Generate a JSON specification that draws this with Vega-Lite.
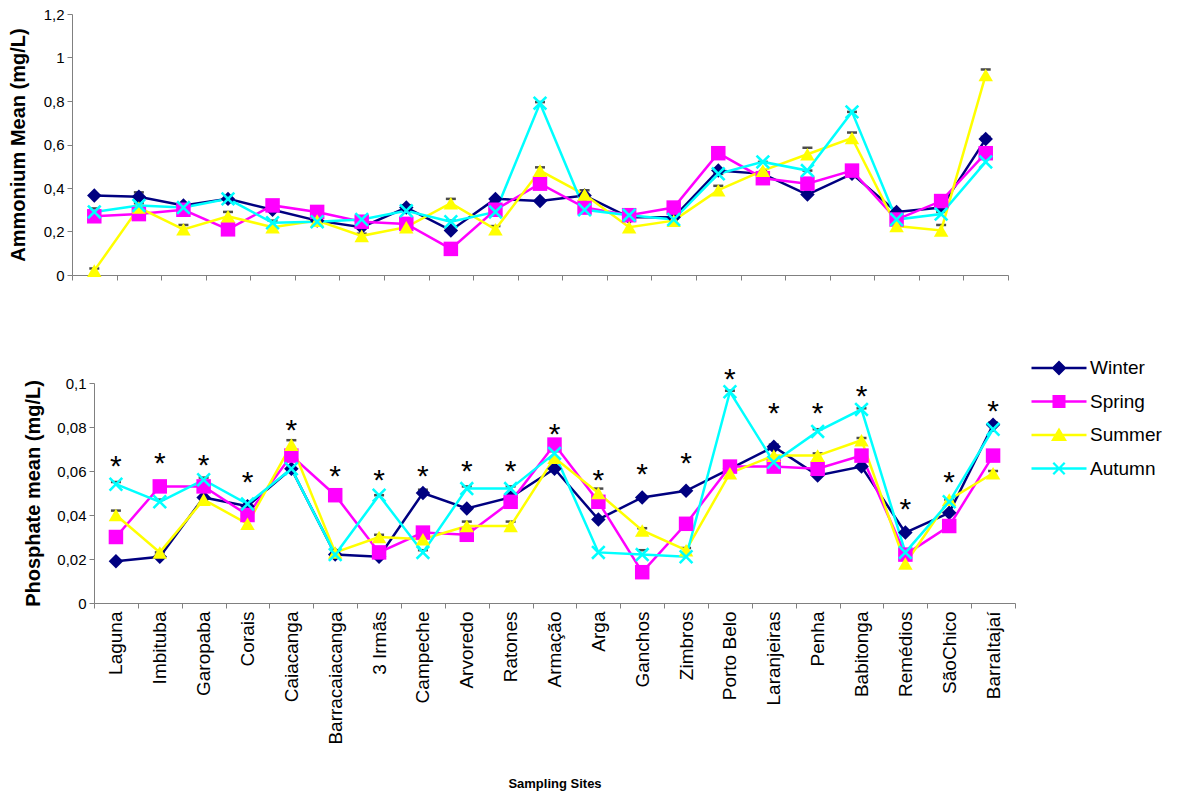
{
  "$schema": "https://vega.github.io/schema/vega-lite/v6.json",
  "padding": {"left": 8, "top": 7, "right": 5, "bottom": 5},
  "columns": 1,
  "spacing": 75,
  "datasets": {
    "amm": [
      {"site": "Laguna", "Winter": 0.365, "Spring": 0.27, "Summer": 0.02, "Autumn": 0.29},
      {"site": "Imbituba", "Winter": 0.36, "Spring": 0.28, "Summer": 0.31, "Autumn": 0.32},
      {"site": "Garopaba", "Winter": 0.32, "Spring": 0.30, "Summer": 0.21, "Autumn": 0.31},
      {"site": "Corais", "Winter": 0.35, "Spring": 0.21, "Summer": 0.27, "Autumn": 0.35},
      {"site": "Caiacanga", "Winter": 0.30, "Spring": 0.32, "Summer": 0.22, "Autumn": 0.24},
      {"site": "Barracaiacanga", "Winter": 0.25, "Spring": 0.29, "Summer": 0.25, "Autumn": 0.245},
      {"site": "3 Irmãs", "Winter": 0.22, "Spring": 0.245, "Summer": 0.18, "Autumn": 0.255},
      {"site": "Campeche", "Winter": 0.31, "Spring": 0.235, "Summer": 0.22, "Autumn": 0.295},
      {"site": "Arvoredo", "Winter": 0.205, "Spring": 0.12, "Summer": 0.33, "Autumn": 0.245},
      {"site": "Ratones", "Winter": 0.35, "Spring": 0.30, "Summer": 0.21, "Autumn": 0.29},
      {"site": "Armação", "Winter": 0.34, "Spring": 0.42, "Summer": 0.48, "Autumn": 0.79},
      {"site": "Arga", "Winter": 0.365, "Spring": 0.31, "Summer": 0.37, "Autumn": 0.30},
      {"site": "Ganchos", "Winter": 0.265, "Spring": 0.275, "Summer": 0.22, "Autumn": 0.275},
      {"site": "Zimbros", "Winter": 0.265, "Spring": 0.31, "Summer": 0.25, "Autumn": 0.255},
      {"site": "Porto Belo", "Winter": 0.48, "Spring": 0.56, "Summer": 0.39, "Autumn": 0.465},
      {"site": "Laranjeiras", "Winter": 0.465, "Spring": 0.445, "Summer": 0.48, "Autumn": 0.52},
      {"site": "Penha", "Winter": 0.37, "Spring": 0.42, "Summer": 0.555, "Autumn": 0.48},
      {"site": "Babitonga", "Winter": 0.465, "Spring": 0.48, "Summer": 0.63, "Autumn": 0.75},
      {"site": "Remédios", "Winter": 0.29, "Spring": 0.255, "Summer": 0.225, "Autumn": 0.255},
      {"site": "SãoChico", "Winter": 0.31, "Spring": 0.34, "Summer": 0.205, "Autumn": 0.28},
      {"site": "BarraItajaí", "Winter": 0.625, "Spring": 0.56, "Summer": 0.92, "Autumn": 0.52}
    ],
    "ammcap": [
      {"site": "Laguna", "cap": 0.03}, {"site": "Laguna", "cap": 0.306},
      {"site": "Imbituba", "cap": 0.38}, {"site": "Imbituba", "cap": 0.33},
      {"site": "Garopaba", "cap": 0.23},
      {"site": "Corais", "cap": 0.29},
      {"site": "Caiacanga", "cap": 0.25},
      {"site": "3 Irmãs", "cap": 0.19},
      {"site": "Campeche", "cap": 0.32},
      {"site": "Arvoredo", "cap": 0.35}, {"site": "Arvoredo", "cap": 0.25},
      {"site": "Ratones", "cap": 0.225},
      {"site": "Armação", "cap": 0.795}, {"site": "Armação", "cap": 0.495},
      {"site": "Arga", "cap": 0.39},
      {"site": "Ganchos", "cap": 0.26},
      {"site": "Zimbros", "cap": 0.26},
      {"site": "Porto Belo", "cap": 0.465}, {"site": "Porto Belo", "cap": 0.41},
      {"site": "Laranjeiras", "cap": 0.52},
      {"site": "Penha", "cap": 0.585}, {"site": "Penha", "cap": 0.48},
      {"site": "Babitonga", "cap": 0.75}, {"site": "Babitonga", "cap": 0.655}, {"site": "Babitonga", "cap": 0.49},
      {"site": "SãoChico", "cap": 0.29}, {"site": "SãoChico", "cap": 0.23},
      {"site": "BarraItajaí", "cap": 0.945}, {"site": "BarraItajaí", "cap": 0.635}
    ],
    "pho": [
      {"site": "Laguna", "Winter": 0.019, "Spring": 0.030, "Summer": 0.040, "Autumn": 0.054},
      {"site": "Imbituba", "Winter": 0.021, "Spring": 0.053, "Summer": 0.023, "Autumn": 0.046},
      {"site": "Garopaba", "Winter": 0.048, "Spring": 0.053, "Summer": 0.047, "Autumn": 0.056},
      {"site": "Corais", "Winter": 0.044, "Spring": 0.040, "Summer": 0.036, "Autumn": 0.045},
      {"site": "Caiacanga", "Winter": 0.061, "Spring": 0.067, "Summer": 0.072, "Autumn": 0.061},
      {"site": "Barracaiacanga", "Winter": 0.022, "Spring": 0.049, "Summer": 0.023, "Autumn": 0.022},
      {"site": "3 Irmãs", "Winter": 0.021, "Spring": 0.023, "Summer": 0.030, "Autumn": 0.049},
      {"site": "Campeche", "Winter": 0.050, "Spring": 0.032, "Summer": 0.029, "Autumn": 0.023},
      {"site": "Arvoredo", "Winter": 0.043, "Spring": 0.031, "Summer": 0.035, "Autumn": 0.052},
      {"site": "Ratones", "Winter": 0.048, "Spring": 0.046, "Summer": 0.035, "Autumn": 0.052},
      {"site": "Armação", "Winter": 0.061, "Spring": 0.072, "Summer": 0.066, "Autumn": 0.068},
      {"site": "Arga", "Winter": 0.038, "Spring": 0.046, "Summer": 0.050, "Autumn": 0.023},
      {"site": "Ganchos", "Winter": 0.048, "Spring": 0.014, "Summer": 0.033, "Autumn": 0.022},
      {"site": "Zimbros", "Winter": 0.051, "Spring": 0.036, "Summer": 0.024, "Autumn": 0.021},
      {"site": "Porto Belo", "Winter": 0.061, "Spring": 0.062, "Summer": 0.059, "Autumn": 0.096},
      {"site": "Laranjeiras", "Winter": 0.071, "Spring": 0.062, "Summer": 0.067, "Autumn": 0.064},
      {"site": "Penha", "Winter": 0.058, "Spring": 0.061, "Summer": 0.067, "Autumn": 0.078},
      {"site": "Babitonga", "Winter": 0.062, "Spring": 0.067, "Summer": 0.074, "Autumn": 0.088},
      {"site": "Remédios", "Winter": 0.032, "Spring": 0.022, "Summer": 0.018, "Autumn": 0.023},
      {"site": "SãoChico", "Winter": 0.041, "Spring": 0.035, "Summer": 0.047, "Autumn": 0.046},
      {"site": "BarraItajaí", "Winter": 0.081, "Spring": 0.067, "Summer": 0.059, "Autumn": 0.079}
    ],
    "phocap": [
      {"site": "Laguna", "cap": 0.042}, {"site": "Laguna", "cap": 0.055},
      {"site": "Imbituba", "cap": 0.047}, {"site": "Imbituba", "cap": 0.023},
      {"site": "Garopaba", "cap": 0.057},
      {"site": "Caiacanga", "cap": 0.074},
      {"site": "Barracaiacanga", "cap": 0.024},
      {"site": "3 Irmãs", "cap": 0.031}, {"site": "3 Irmãs", "cap": 0.049},
      {"site": "Campeche", "cap": 0.0515}, {"site": "Campeche", "cap": 0.024},
      {"site": "Arvoredo", "cap": 0.053}, {"site": "Arvoredo", "cap": 0.037},
      {"site": "Ratones", "cap": 0.053}, {"site": "Ratones", "cap": 0.037},
      {"site": "Armação", "cap": 0.069},
      {"site": "Arga", "cap": 0.052},
      {"site": "Ganchos", "cap": 0.034}, {"site": "Ganchos", "cap": 0.024},
      {"site": "Zimbros", "cap": 0.025},
      {"site": "Porto Belo", "cap": 0.0965},
      {"site": "Laranjeiras", "cap": 0.072},
      {"site": "Penha", "cap": 0.079}, {"site": "Penha", "cap": 0.068},
      {"site": "Babitonga", "cap": 0.0885}, {"site": "Babitonga", "cap": 0.075},
      {"site": "SãoChico", "cap": 0.047},
      {"site": "BarraItajaí", "cap": 0.082}, {"site": "BarraItajaí", "cap": 0.060}
    ],
    "ast": [
      {"site": "Laguna", "pos": 0.0655},
      {"site": "Imbituba", "pos": 0.0667},
      {"site": "Garopaba", "pos": 0.066},
      {"site": "Corais", "pos": 0.058},
      {"site": "Caiacanga", "pos": 0.082},
      {"site": "Barracaiacanga", "pos": 0.061},
      {"site": "3 Irmãs", "pos": 0.059},
      {"site": "Campeche", "pos": 0.061},
      {"site": "Arvoredo", "pos": 0.063},
      {"site": "Ratones", "pos": 0.063},
      {"site": "Armação", "pos": 0.080},
      {"site": "Arga", "pos": 0.059},
      {"site": "Ganchos", "pos": 0.0617},
      {"site": "Zimbros", "pos": 0.067},
      {"site": "Porto Belo", "pos": 0.1048},
      {"site": "Laranjeiras", "pos": 0.0897},
      {"site": "Penha", "pos": 0.0897},
      {"site": "Babitonga", "pos": 0.0973},
      {"site": "Remédios", "pos": 0.0458},
      {"site": "SãoChico", "pos": 0.058},
      {"site": "BarraItajaí", "pos": 0.0905}
    ]
  },
  "concat": [
    {
      "width": 936,
      "height": 261,
      "layer": [
        {
          "data": {"name": "ammcap"},
          "mark": {"type": "tick", "color": "black", "size": 10, "thickness": 2.5},
          "encoding": {
            "x": {"field": "site", "type": "nominal", "sort": ["Laguna","Imbituba","Garopaba","Corais","Caiacanga","Barracaiacanga","3 Irmãs","Campeche","Arvoredo","Ratones","Armação","Arga","Ganchos","Zimbros","Porto Belo","Laranjeiras","Penha","Babitonga","Remédios","SãoChico","BarraItajaí"], "scale": {"type": "band", "paddingInner": 0, "paddingOuter": 0}, "axis": {"labels": false, "title": null, "tickBand": "extent", "tickSize": 5, "domainColor": "#808080", "tickColor": "#808080"}},
            "y": {"field": "cap", "type": "quantitative"}
          }
        },
        {
          "data": {"name": "amm"},
          "transform": [{"fold": ["Winter", "Spring", "Summer", "Autumn"], "as": ["season", "value"]}],
          "mark": {"type": "line", "strokeWidth": 2.5},
          "encoding": {
            "x": {"field": "site", "type": "nominal", "bandPosition": 0.5, "sort": ["Laguna","Imbituba","Garopaba","Corais","Caiacanga","Barracaiacanga","3 Irmãs","Campeche","Arvoredo","Ratones","Armação","Arga","Ganchos","Zimbros","Porto Belo","Laranjeiras","Penha","Babitonga","Remédios","SãoChico","BarraItajaí"]},
            "y": {"field": "value", "type": "quantitative", "scale": {"domain": [0, 1.2], "nice": false}, "axis": {"title": "Ammonium Mean (mg/L)", "values": [0, 0.2, 0.4, 0.6, 0.8, 1, 1.2], "titlePadding": 15}},
            "color": {"field": "season", "type": "nominal", "scale": {"domain": ["Winter", "Spring", "Summer", "Autumn"], "range": ["#000080", "#FF00FF", "#FFFF00", "#00FFFF"]}, "legend": null}
          }
        },
        {
          "data": {"name": "amm"},
          "transform": [{"fold": ["Winter", "Spring", "Summer", "Autumn"], "as": ["season", "value"]}],
          "mark": {"type": "point", "filled": true, "size": 210, "opacity": 1},
          "encoding": {
            "x": {"field": "site", "type": "nominal", "bandPosition": 0.5, "sort": ["Laguna","Imbituba","Garopaba","Corais","Caiacanga","Barracaiacanga","3 Irmãs","Campeche","Arvoredo","Ratones","Armação","Arga","Ganchos","Zimbros","Porto Belo","Laranjeiras","Penha","Babitonga","Remédios","SãoChico","BarraItajaí"]},
            "y": {"field": "value", "type": "quantitative"},
            "fill": {"field": "season", "type": "nominal", "scale": {"domain": ["Winter", "Spring", "Summer", "Autumn"], "range": ["#000080", "#FF00FF", "#FFFF00", "#00FFFF"]}, "legend": null},
            "shape": {"field": "season", "type": "nominal", "scale": {"domain": ["Winter", "Spring", "Summer", "Autumn"], "range": ["diamond", "square", "triangle-up", "M0,-0.25L0.75,-1L1,-0.75L0.25,0L1,0.75L0.75,1L0,0.25L-0.75,1L-1,0.75L-0.25,0L-1,-0.75L-0.75,-1Z"]}, "legend": null}
          }
        }
      ]
    },
    {
      "width": 943,
      "height": 220,
      "resolve": {"scale": {"shape": "independent", "color": "independent"}},
      "layer": [
        {
          "data": {"name": "phocap"},
          "mark": {"type": "tick", "color": "black", "size": 10, "thickness": 2.5},
          "encoding": {
            "x": {"field": "site", "type": "nominal", "sort": ["Laguna","Imbituba","Garopaba","Corais","Caiacanga","Barracaiacanga","3 Irmãs","Campeche","Arvoredo","Ratones","Armação","Arga","Ganchos","Zimbros","Porto Belo","Laranjeiras","Penha","Babitonga","Remédios","SãoChico","BarraItajaí"], "scale": {"type": "band", "paddingInner": 0, "paddingOuter": 0, "range": [22, 943]}, "axis": {"title": "Sampling Sites", "labelAngle": -90, "labelFontSize": 19, "labelPadding": 3, "tickBand": "extent", "tickSize": 5, "domainColor": "#808080", "tickColor": "#808080", "titleFontSize": 13, "titlePadding": 33}},
            "y": {"field": "cap", "type": "quantitative"}
          }
        },
        {
          "data": {"name": "pho"},
          "transform": [{"fold": ["Winter", "Spring", "Summer", "Autumn"], "as": ["season", "value"]}],
          "mark": {"type": "line", "strokeWidth": 2.5},
          "encoding": {
            "x": {"field": "site", "type": "nominal", "bandPosition": 0.5, "sort": ["Laguna","Imbituba","Garopaba","Corais","Caiacanga","Barracaiacanga","3 Irmãs","Campeche","Arvoredo","Ratones","Armação","Arga","Ganchos","Zimbros","Porto Belo","Laranjeiras","Penha","Babitonga","Remédios","SãoChico","BarraItajaí"]},
            "y": {"field": "value", "type": "quantitative", "scale": {"domain": [0, 0.1], "nice": false}, "axis": {"title": "Phosphate mean (mg/L)", "values": [0, 0.02, 0.04, 0.06, 0.08, 0.1], "titlePadding": 13, "offset": -22}},
            "color": {"field": "season", "type": "nominal", "scale": {"domain": ["Winter", "Spring", "Summer", "Autumn"], "range": ["#000080", "#FF00FF", "#FFFF00", "#00FFFF"]}, "legend": null}
          }
        },
        {
          "data": {"name": "pho"},
          "transform": [{"fold": ["Winter", "Spring", "Summer", "Autumn"], "as": ["season", "value"]}],
          "mark": {"type": "point", "filled": true, "size": 210, "opacity": 1},
          "encoding": {
            "x": {"field": "site", "type": "nominal", "bandPosition": 0.5, "sort": ["Laguna","Imbituba","Garopaba","Corais","Caiacanga","Barracaiacanga","3 Irmãs","Campeche","Arvoredo","Ratones","Armação","Arga","Ganchos","Zimbros","Porto Belo","Laranjeiras","Penha","Babitonga","Remédios","SãoChico","BarraItajaí"]},
            "y": {"field": "value", "type": "quantitative"},
            "fill": {"field": "season", "type": "nominal", "scale": {"domain": ["Winter", "Spring", "Summer", "Autumn"], "range": ["#000080", "#FF00FF", "#FFFF00", "#00FFFF"]}, "legend": null},
            "shape": {"field": "season", "type": "nominal", "scale": {"domain": ["Winter", "Spring", "Summer", "Autumn"], "range": ["diamond", "square", "triangle-up", "M0,-0.25L0.75,-1L1,-0.75L0.25,0L1,0.75L0.75,1L0,0.25L-0.75,1L-1,0.75L-0.25,0L-1,-0.75L-0.75,-1Z"]}, "legend": null}
          }
        },
        {
          "data": {"name": "pho"},
          "transform": [{"fold": ["Winter", "Spring", "Summer", "Autumn"], "as": ["season", "value"]}],
          "mark": {"type": "point", "filled": true, "size": 210, "opacity": 0},
          "encoding": {
            "x": {"field": "site", "type": "nominal", "bandPosition": 0.5, "sort": ["Laguna","Imbituba","Garopaba","Corais","Caiacanga","Barracaiacanga","3 Irmãs","Campeche","Arvoredo","Ratones","Armação","Arga","Ganchos","Zimbros","Porto Belo","Laranjeiras","Penha","Babitonga","Remédios","SãoChico","BarraItajaí"]},
            "y": {"field": "value", "type": "quantitative"},
            "color": {"field": "season", "type": "nominal", "scale": {"domain": ["Winter", "Spring", "Summer", "Autumn"], "range": ["#000080", "#FF00FF", "#FFFF00", "#00FFFF"]},
              "legend": {"title": null, "orient": "none", "legendX": 977, "legendY": -25, "padding": 0, "labelFontSize": 19, "labelColor": "black", "labelOffset": 21, "symbolSize": 400, "symbolOpacity": 1, "symbolStrokeWidth": 0, "rowPadding": 13.5}},
            "shape": {"field": "season", "type": "nominal", "scale": {"domain": ["Winter", "Spring", "Summer", "Autumn"], "range": [
              "M-2.75,-0.12L2.75,-0.12L2.75,0.12L-2.75,0.12Z M0,-0.75L0.75,0L0,0.75L-0.75,0Z",
              "M-2.75,-0.12L2.75,-0.12L2.75,0.12L-2.75,0.12Z M-0.65,-0.65L0.65,-0.65L0.65,0.65L-0.65,0.65Z",
              "M-2.75,-0.12L2.75,-0.12L2.75,0.12L-2.75,0.12Z M0,-0.75L0.8,0.6L-0.8,0.6Z",
              "M-2.75,-0.12L2.75,-0.12L2.75,0.12L-2.75,0.12Z M0,-0.16L0.49,-0.65L0.65,-0.49L0.16,0L0.65,0.49L0.49,0.65L0,0.16L-0.49,0.65L-0.65,0.49L-0.16,0L-0.65,-0.49L-0.49,-0.65Z"
            ]},
              "legend": {"title": null, "orient": "none", "legendX": 977, "legendY": -25, "padding": 0, "labelFontSize": 19, "labelColor": "black", "labelOffset": 21, "symbolSize": 400, "symbolOpacity": 1, "symbolStrokeWidth": 0, "rowPadding": 13.5}}
          }
        },
        {
          "data": {"name": "ast"},
          "mark": {"type": "text", "text": "*", "fontSize": 30, "baseline": "alphabetic", "dy": 17, "color": "black"},
          "encoding": {
            "x": {"field": "site", "type": "nominal", "bandPosition": 0.5, "sort": ["Laguna","Imbituba","Garopaba","Corais","Caiacanga","Barracaiacanga","3 Irmãs","Campeche","Arvoredo","Ratones","Armação","Arga","Ganchos","Zimbros","Porto Belo","Laranjeiras","Penha","Babitonga","Remédios","SãoChico","BarraItajaí"]},
            "y": {"field": "pos", "type": "quantitative"}
          }
        }
      ]
    }
  ],
  "resolve": {"scale": {"x": "independent", "y": "independent", "color": "independent", "fill": "independent", "shape": "independent"}},
  "config": {
    "font": "Liberation Sans",
    "view": {"stroke": null},
    "axis": {
      "grid": false,
      "domainColor": "#808080",
      "tickColor": "#808080",
      "labelColor": "black",
      "titleColor": "black",
      "labelFontSize": 15,
      "labelPadding": 3,
      "tickSize": 5,
      "titleFontSize": 20,
      "titleFontWeight": "bold"
    },
    "axisY": {"labelExpr": "replace(format(datum.value, '~g'), '.', ',')"}
  }
}
